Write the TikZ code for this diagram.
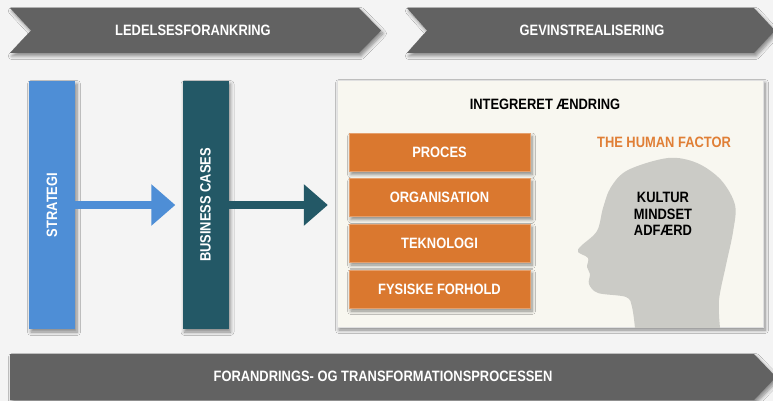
\documentclass[tikz,border=0pt]{standalone}
\usepackage{fontspec}
\setmainfont{Liberation Sans}[FakeStretch=0.86]
\usetikzlibrary{shadows.blur,arrows.meta}
\definecolor{bgc}{HTML}{F4F4F4}
\definecolor{chev}{HTML}{626262}
\definecolor{stratc}{HTML}{4E8ED6}
\definecolor{bizc}{HTML}{235866}
\definecolor{creamc}{HTML}{F8F7F0}
\definecolor{orangec}{HTML}{DA782F}
\definecolor{hfc}{HTML}{E07F36}
\definecolor{headc}{HTML}{CBCBC6}
\tikzset{
  shad/.style={blur shadow={shadow xshift=2pt, shadow yshift=-3pt, shadow opacity=45, shadow blur steps=6, shadow blur radius=3.5pt}},
  lbl/.style={font=\bfseries\fontsize{15}{17}\selectfont, text=white, inner sep=0pt},
  dark/.style={font=\bfseries\fontsize{15}{17}\selectfont, text=black, inner sep=0pt},
  bar/.style={shad, inner sep=0pt, minimum width=46pt, minimum height=248pt},
  obox/.style={shad, fill=orangec, draw=orangec!70!white, line width=0.4pt, minimum width=181pt, minimum height=38pt, inner sep=0pt, font=\bfseries\fontsize{15}{17}\selectfont, text=white},
  fatarrow/.style={line width=8pt, -{Triangle[width=40pt,length=24pt]}}
}
\begin{document}
\begin{tikzpicture}[x=1pt,y=-1pt]
\fill[bgc] (0,0) rectangle (773,401);
\useasboundingbox (0,0) rectangle (773,401);
% top chevrons
\fill[chev, shad] (10,8) -- (359,8) -- (381,30.5) -- (359,53) -- (10,53) -- (31,30.5) -- cycle;
\node[lbl] (led) at (193,30) {LEDELSESFORANKRING};
\fill[chev, shad] (407,8) -- (754,8) -- (775,30.5) -- (754,53) -- (407,53) -- (427,30.5) -- cycle;
\node[lbl] (gev) at (592,30) {GEVINSTREALISERING};
% bottom chevron
\fill[chev, shad] (10,354) -- (754,354) -- (776,377) -- (754,400) -- (10,400) -- cycle;
\node[lbl] (forand) at (383,376) {FORANDRINGS- OG TRANSFORMATIONSPROCESSEN};
% bars
\node[bar, fill=stratc] (strat) at (52,205) {};
\node[lbl, rotate=90] (stratt) at (strat.center) {STRATEGI};
\node[bar, fill=bizc] (biz) at (205.5,205) {};
\node[lbl, rotate=90] (bizt) at (biz.center) {BUSINESS CASES};
% big box
\node[shad, fill=creamc, draw=white!88!black, line width=0.3pt, minimum width=426pt, minimum height=247pt, inner sep=0pt] (box) at (550,203.5) {};
\begin{scope}
\clip (box.north west) rectangle (box.south east);
\fill[headc] (635,330) -- plot[smooth,tension=0.55] coordinates {(635,328)(632,307)(626,297)(598,293)(589,284)(590,274)(587,267)(588,258)(578,252)(581,246)(597,231)(603,208)(611,187)(628,170)(668,158)(697,163)(721,180)(735,205)(733,232)(726,265)(719,300)(720,328)} -- (720,330) -- cycle;
\end{scope}
\node[dark] (integ) at (545,104) {INTEGRERET ÆNDRING};
\node[font=\bfseries\fontsize{15}{17}\selectfont, text=hfc, inner sep=0pt] (hf) at (664,142) {THE HUMAN FACTOR};
\node[dark, align=center, font=\bfseries\fontsize{15}{16.5}\selectfont] (kult) at (663,214) {KULTUR\\MINDSET\\ADFÆRD};
% orange boxes
\node[obox] (proc) at (439.5,152.5) {PROCES};
\node[obox] (org) at (439.5,197.5) {ORGANISATION};
\node[obox] (tek) at (439.5,243) {TEKNOLOGI};
\node[obox] (fys) at (439.5,289) {FYSISKE FORHOLD};
% arrows
\draw[fatarrow, stratc, shorten >=7pt] (strat.east) -- (biz.west);
\draw[fatarrow, bizc, shorten >=9pt] (biz.east) -- (box.west |- biz.east);
\end{tikzpicture}
\end{document}
